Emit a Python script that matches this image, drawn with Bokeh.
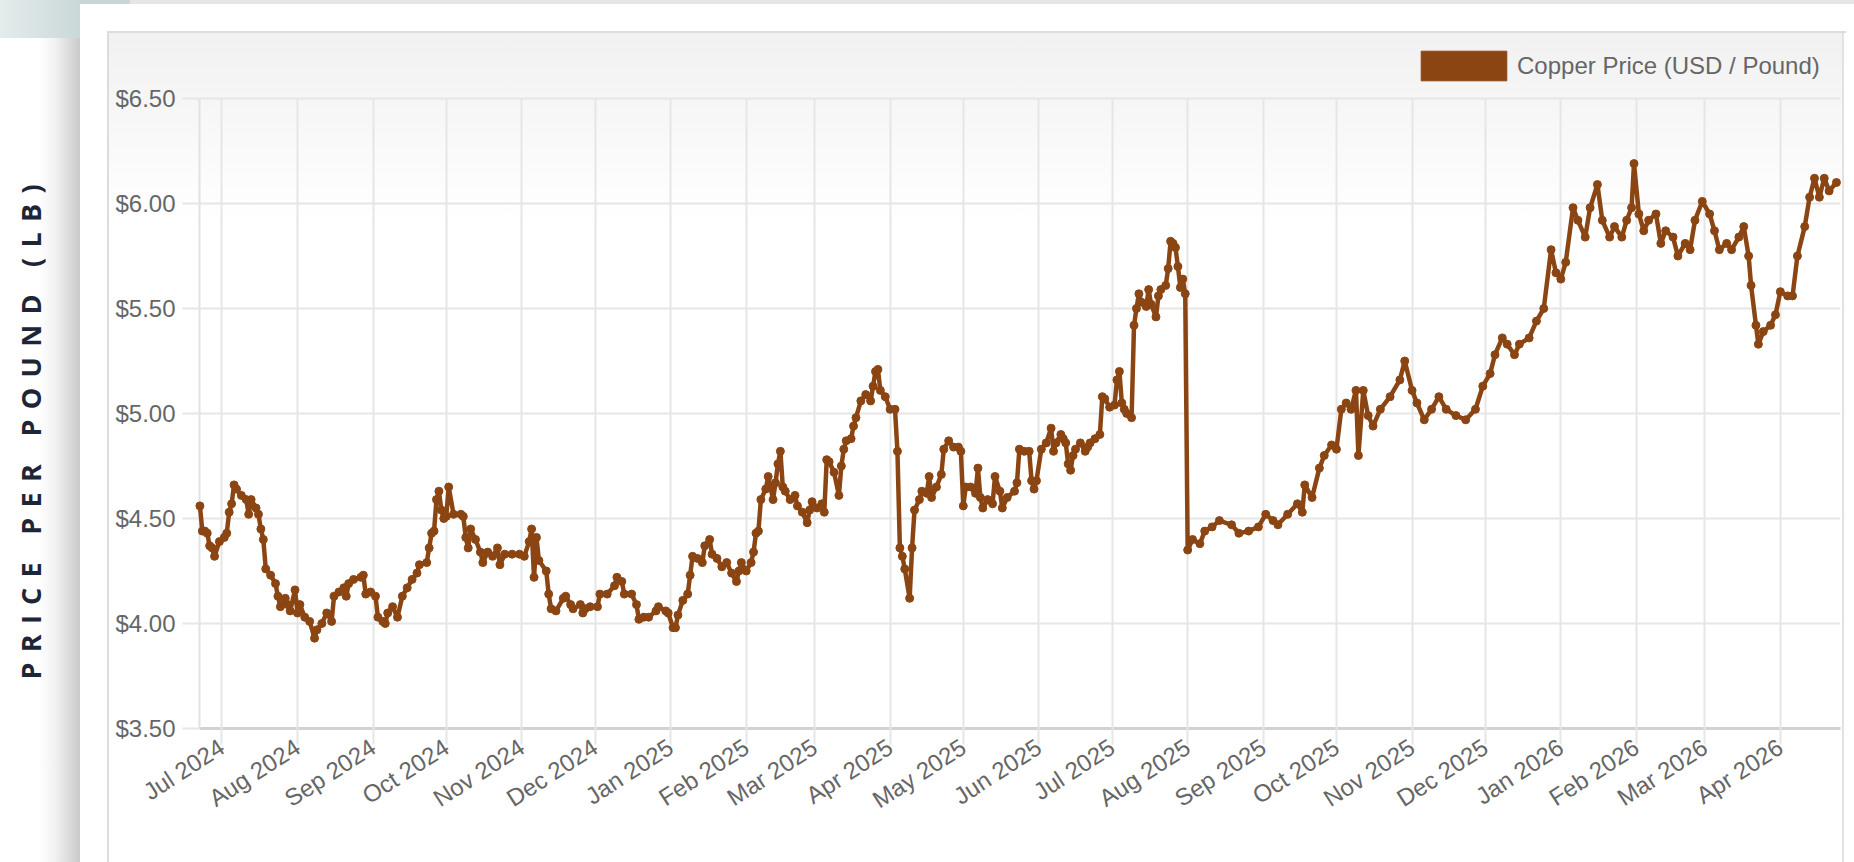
import math
import pandas as pd
from bokeh.plotting import figure
from bokeh.layouts import row
from bokeh.models import (Range1d, FixedTicker, PrintfTickFormatter, MonthsTicker,
                          DatetimeTickFormatter, Legend, LegendItem, Label,
                          ColumnDataSource)
from bokeh.embed import file_html
from bokeh.resources import INLINE

# ---------------- data ----------------
dates_2024 = [
    "2024-06-22", "2024-06-23", "2024-06-24", "2024-06-25", "2024-06-26", "2024-06-27", "2024-06-28",
    "2024-06-30", "2024-07-02", "2024-07-03", "2024-07-04", "2024-07-05", "2024-07-06", "2024-07-07",
    "2024-07-09", "2024-07-11", "2024-07-12", "2024-07-13", "2024-07-15", "2024-07-16", "2024-07-17",
    "2024-07-18", "2024-07-19", "2024-07-21", "2024-07-23", "2024-07-24", "2024-07-25", "2024-07-27",
    "2024-07-28", "2024-07-29", "2024-07-31", "2024-08-01", "2024-08-02", "2024-08-04", "2024-08-06",
    "2024-08-08", "2024-08-09", "2024-08-11", "2024-08-13", "2024-08-15", "2024-08-16", "2024-08-18",
    "2024-08-20", "2024-08-21", "2024-08-22", "2024-08-24", "2024-08-27", "2024-08-28", "2024-08-29",
    "2024-08-31", "2024-09-02", "2024-09-03", "2024-09-05", "2024-09-06", "2024-09-07", "2024-09-09",
    "2024-09-11", "2024-09-13", "2024-09-15", "2024-09-17", "2024-09-19", "2024-09-20", "2024-09-23",
    "2024-09-24", "2024-09-25", "2024-09-26", "2024-09-27", "2024-09-28", "2024-09-29", "2024-09-30",
    "2024-10-01", "2024-10-02", "2024-10-04", "2024-10-07", "2024-10-08", "2024-10-09", "2024-10-10",
    "2024-10-11", "2024-10-13", "2024-10-15", "2024-10-16", "2024-10-18", "2024-10-20", "2024-10-22",
    "2024-10-23", "2024-10-25", "2024-10-28", "2024-10-31", "2024-11-02", "2024-11-04", "2024-11-05",
    "2024-11-06", "2024-11-07", "2024-11-08", "2024-11-11", "2024-11-12", "2024-11-13", "2024-11-15",
    "2024-11-18", "2024-11-19", "2024-11-21", "2024-11-22", "2024-11-25", "2024-11-26", "2024-11-27",
    "2024-11-29", "2024-12-02", "2024-12-03", "2024-12-06", "2024-12-09", "2024-12-10", "2024-12-12",
    "2024-12-13", "2024-12-16", "2024-12-18", "2024-12-19", "2024-12-21", "2024-12-23", "2024-12-26",
    "2024-12-27", "2024-12-30", "2024-12-31",
]
prices_2024 = [
    4.56, 4.44, 4.44, 4.43, 4.37, 4.36, 4.32,
    4.39, 4.41, 4.43, 4.53, 4.57, 4.66, 4.64,
    4.61, 4.59, 4.52, 4.59, 4.55, 4.52, 4.45,
    4.40, 4.26, 4.23, 4.19, 4.13, 4.08, 4.12,
    4.09, 4.06, 4.16, 4.05, 4.09, 4.03, 4.01,
    3.93, 3.97, 4.00, 4.05, 4.01, 4.13, 4.15,
    4.17, 4.13, 4.19, 4.21, 4.22, 4.23, 4.14,
    4.15, 4.13, 4.03, 4.01, 4.00, 4.05, 4.08,
    4.03, 4.13, 4.17, 4.21, 4.24, 4.28, 4.29,
    4.36, 4.43, 4.44, 4.59, 4.63, 4.54, 4.50,
    4.51, 4.65, 4.52, 4.52, 4.51, 4.41, 4.36,
    4.45, 4.40, 4.34, 4.29, 4.34, 4.32, 4.36,
    4.28, 4.33, 4.33, 4.33, 4.32, 4.39, 4.45,
    4.22, 4.41, 4.30, 4.25, 4.14, 4.07, 4.06,
    4.12, 4.13, 4.09, 4.07, 4.09, 4.05, 4.07,
    4.08, 4.08, 4.14, 4.14, 4.18, 4.22, 4.20,
    4.14, 4.14, 4.09, 4.02, 4.03, 4.03, 4.06,
    4.08, 4.06, 4.05,
]

dates_2025 = [
    "2025-01-02", "2025-01-03", "2025-01-04", "2025-01-06", "2025-01-08", "2025-01-09", "2025-01-10",
    "2025-01-12", "2025-01-14", "2025-01-15", "2025-01-17", "2025-01-18", "2025-01-20", "2025-01-22",
    "2025-01-24", "2025-01-26", "2025-01-28", "2025-01-29", "2025-01-30", "2025-02-01", "2025-02-03",
    "2025-02-04", "2025-02-05", "2025-02-06", "2025-02-07", "2025-02-09", "2025-02-10", "2025-02-12",
    "2025-02-13", "2025-02-14", "2025-02-15", "2025-02-16", "2025-02-17", "2025-02-19", "2025-02-21",
    "2025-02-22", "2025-02-24", "2025-02-26", "2025-02-27", "2025-02-28", "2025-03-02", "2025-03-04",
    "2025-03-05", "2025-03-06", "2025-03-07", "2025-03-09", "2025-03-11", "2025-03-12", "2025-03-13",
    "2025-03-14", "2025-03-16", "2025-03-17", "2025-03-18", "2025-03-20", "2025-03-22", "2025-03-24",
    "2025-03-25", "2025-03-26", "2025-03-27", "2025-03-28", "2025-03-30", "2025-04-01", "2025-04-03",
    "2025-04-04", "2025-04-05", "2025-04-06", "2025-04-07", "2025-04-09", "2025-04-10", "2025-04-11",
    "2025-04-13", "2025-04-14", "2025-04-16", "2025-04-17", "2025-04-18", "2025-04-20", "2025-04-22",
    "2025-04-23", "2025-04-25", "2025-04-27", "2025-04-29", "2025-04-30", "2025-05-01", "2025-05-02",
    "2025-05-04", "2025-05-06", "2025-05-07", "2025-05-08", "2025-05-09", "2025-05-11", "2025-05-13",
    "2025-05-14", "2025-05-16", "2025-05-17", "2025-05-19", "2025-05-22", "2025-05-23", "2025-05-24",
    "2025-05-26", "2025-05-28", "2025-05-29", "2025-05-30", "2025-05-31", "2025-06-02", "2025-06-04",
    "2025-06-06", "2025-06-07", "2025-06-08", "2025-06-10", "2025-06-11", "2025-06-12", "2025-06-13",
    "2025-06-14", "2025-06-15", "2025-06-16", "2025-06-18", "2025-06-20", "2025-06-21", "2025-06-22",
    "2025-06-24", "2025-06-26", "2025-06-27", "2025-06-28", "2025-06-30", "2025-07-02", "2025-07-03",
    "2025-07-04", "2025-07-05", "2025-07-06", "2025-07-07", "2025-07-09", "2025-07-10", "2025-07-11",
    "2025-07-12", "2025-07-13", "2025-07-15", "2025-07-16", "2025-07-17", "2025-07-19", "2025-07-20",
    "2025-07-21", "2025-07-23", "2025-07-24", "2025-07-25", "2025-07-26", "2025-07-27", "2025-07-28",
    "2025-07-29", "2025-07-30", "2025-07-31", "2025-08-01", "2025-08-03", "2025-08-06", "2025-08-08",
    "2025-08-11", "2025-08-14", "2025-08-19", "2025-08-22", "2025-08-26", "2025-08-30", "2025-09-02",
    "2025-09-05", "2025-09-07", "2025-09-11", "2025-09-15", "2025-09-17", "2025-09-18", "2025-09-21",
    "2025-09-24", "2025-09-26", "2025-09-29", "2025-10-01", "2025-10-03", "2025-10-05", "2025-10-07",
    "2025-10-09", "2025-10-10", "2025-10-12", "2025-10-14", "2025-10-16", "2025-10-19", "2025-10-23",
    "2025-10-27", "2025-10-29", "2025-11-01", "2025-11-03", "2025-11-06", "2025-11-09", "2025-11-12",
    "2025-11-15", "2025-11-19", "2025-11-23", "2025-11-27", "2025-11-30", "2025-12-03", "2025-12-05",
    "2025-12-08", "2025-12-10", "2025-12-13", "2025-12-15", "2025-12-19", "2025-12-22", "2025-12-25",
    "2025-12-28", "2025-12-30",
]
prices_2025 = [
    3.98, 3.98, 4.04, 4.11, 4.14, 4.23, 4.32,
    4.31, 4.29, 4.37, 4.40, 4.33, 4.31, 4.27,
    4.29, 4.24, 4.20, 4.25, 4.29, 4.25, 4.29,
    4.34, 4.43, 4.44, 4.59, 4.64, 4.70, 4.59,
    4.67, 4.76, 4.82, 4.65, 4.63, 4.59, 4.61,
    4.56, 4.53, 4.48, 4.54, 4.58, 4.55, 4.57,
    4.53, 4.78, 4.77, 4.72, 4.61, 4.75, 4.83,
    4.87, 4.88, 4.94, 4.98, 5.06, 5.09, 5.06,
    5.13, 5.20, 5.21, 5.11, 5.08, 5.02, 5.02,
    4.82, 4.36, 4.32, 4.26, 4.12, 4.36, 4.54,
    4.59, 4.63, 4.62, 4.70, 4.60, 4.65, 4.71,
    4.83, 4.87, 4.84, 4.84, 4.82, 4.56, 4.65,
    4.65, 4.62, 4.74, 4.60, 4.55, 4.59, 4.57,
    4.70, 4.63, 4.55, 4.60, 4.63, 4.67, 4.83,
    4.82, 4.82, 4.68, 4.64, 4.68, 4.83, 4.86,
    4.93, 4.82, 4.86, 4.90, 4.88, 4.86, 4.76,
    4.73, 4.80, 4.83, 4.86, 4.82, 4.84, 4.86,
    4.88, 4.90, 5.08, 5.07, 5.03, 5.04, 5.16,
    5.20, 5.05, 5.02, 5.00, 4.98, 5.42, 5.50,
    5.57, 5.53, 5.51, 5.59, 5.52, 5.46, 5.56,
    5.59, 5.61, 5.69, 5.82, 5.81, 5.79, 5.70,
    5.60, 5.64, 5.57, 4.35, 4.40, 4.38, 4.44,
    4.46, 4.49, 4.47, 4.43, 4.44, 4.46, 4.52,
    4.49, 4.47, 4.52, 4.57, 4.53, 4.66, 4.60,
    4.74, 4.80, 4.85, 4.83, 5.02, 5.05, 5.02,
    5.11, 4.80, 5.11, 4.99, 4.94, 5.02, 5.08,
    5.16, 5.25, 5.11, 5.05, 4.97, 5.02, 5.08,
    5.02, 4.99, 4.97, 5.02, 5.13, 5.19, 5.28,
    5.36, 5.33, 5.28, 5.33, 5.36, 5.44, 5.50,
    5.78, 5.67,
]

dates_2026 = [
    "2026-01-01", "2026-01-03", "2026-01-06", "2026-01-08", "2026-01-11", "2026-01-13", "2026-01-16",
    "2026-01-18", "2026-01-21", "2026-01-23", "2026-01-26", "2026-01-28", "2026-01-30", "2026-01-31",
    "2026-02-02", "2026-02-04", "2026-02-06", "2026-02-09", "2026-02-11", "2026-02-13", "2026-02-16",
    "2026-02-18", "2026-02-21", "2026-02-23", "2026-02-25", "2026-02-28", "2026-03-03", "2026-03-05",
    "2026-03-07", "2026-03-10", "2026-03-12", "2026-03-15", "2026-03-17", "2026-03-19", "2026-03-20",
    "2026-03-22", "2026-03-23", "2026-03-25", "2026-03-28", "2026-03-30", "2026-04-01", "2026-04-04",
    "2026-04-06", "2026-04-08", "2026-04-11", "2026-04-13", "2026-04-15", "2026-04-17", "2026-04-19",
    "2026-04-21", "2026-04-24",
]
prices_2026 = [
    5.64, 5.72, 5.98, 5.92, 5.84, 5.98, 6.09,
    5.92, 5.84, 5.89, 5.84, 5.92, 5.98, 6.19,
    5.95, 5.87, 5.92, 5.95, 5.81, 5.87, 5.84,
    5.75, 5.81, 5.78, 5.92, 6.01, 5.95, 5.87,
    5.78, 5.81, 5.78, 5.84, 5.89, 5.75, 5.61,
    5.42, 5.33, 5.39, 5.42, 5.47, 5.58, 5.56,
    5.56, 5.75, 5.89, 6.03, 6.12, 6.03, 6.12,
    6.06, 6.10,
]

y_ticks = [3.5, 4.0, 4.5, 5.0, 5.5, 6.0, 6.5]
series_name = "Copper Price (USD / Pound)"
axis_title = "PRICE PER POUND (LB)"

COPPER = "#8b4513"
GRID = "#e6e6e6"
TICK_TXT = "#666666"
H = 862

dates = pd.to_datetime(dates_2024 + dates_2025 + dates_2026)
prices = prices_2024 + prices_2025 + prices_2026
src = ColumnDataSource(dict(date=dates, price=prices))

# ---------------- narrow strip holding the spaced vertical axis title ----------------
t = figure(width=80, height=H, output_backend="svg", toolbar_location=None,
           x_axis_location=None, y_axis_location=None,
           x_range=Range1d(0, 1), y_range=Range1d(0, 1),
           min_border=0, min_border_left=0, min_border_right=0,
           min_border_top=0, min_border_bottom=0)
t.grid.visible = False
t.outline_line_color = None
t.background_fill_alpha = 0
t.border_fill_alpha = 0
t.styles = {
    "letter-spacing": "10.3px",
    "background": ("linear-gradient(to right, #e4ecec, #cad8d8) 0px 0px / 80px 38px no-repeat, "
                   "linear-gradient(to right, #ffffff 0%, #f2f2f2 40%, #c9c9c9 100%) 38px 38px / 42px 824px no-repeat, "
                   "#ffffff"),
}
t.add_layout(Label(x=30, y=49, x_units="screen", y_units="screen",
                   text=axis_title, angle=math.pi / 2, text_align="left",
                   text_baseline="middle", text_font="Open Sans",
                   text_font_style="bold", text_font_size="27px",
                   text_color="#1d2636"))

# ---------------- main chart ----------------
# frame spans from the legend header (top) to $3.50; $6.50 sits 60px below the frame top
p = figure(width=1774, height=H, x_axis_type="datetime",
           output_backend="svg", toolbar_location=None,
           x_range=Range1d(pd.Timestamp("2024-06-21 20:00"), pd.Timestamp("2026-04-25 16:00")),
           y_range=Range1d(3.5, 6.7857),
           min_border_left=119, min_border_right=14, min_border_top=38, min_border_bottom=134)
p.outline_line_color = None
p.background_fill_alpha = 0
p.border_fill_alpha = 0
p.styles = {
    "background": ("linear-gradient(#c8d6d6, #c8d6d6) 0px 0px / 50px 4px no-repeat, "
                   "linear-gradient(#e6e6e6, #e6e6e6) 50px 0px / 1724px 4px no-repeat, "
                   "linear-gradient(#dcdcdc, #dcdcdc) 27px 31px / 1739px 2px no-repeat, "
                   "linear-gradient(#dcdcdc, #dcdcdc) 27px 31px / 2px 831px no-repeat, "
                   "linear-gradient(#e2e2e2, #e2e2e2) 1762px 31px / 2px 831px no-repeat, "
                   "linear-gradient(to bottom, #f1f1f1, rgba(255,255,255,0)) 29px 33px / 1733px 190px no-repeat, "
                   "#ffffff"),
}

month_ticker = MonthsTicker(months=list(range(12)))
p.xaxis.ticker = month_ticker
p.xgrid.visible = False
p.yaxis.ticker = FixedTicker(ticks=y_ticks)
p.yaxis.formatter = PrintfTickFormatter(format="$%.2f")
p.yaxis.bounds = (3.5, 6.5)
fmt = "%b %Y"
p.xaxis.formatter = DatetimeTickFormatter(days=fmt, months=fmt, years=fmt, hours=fmt,
                                          minutes=fmt, seconds=fmt, milliseconds=fmt,
                                          microseconds=fmt, minsec=fmt, hourmin=fmt)
p.ygrid.grid_line_color = GRID
p.ygrid.grid_line_width = 2

p.axis.major_label_text_font = "Liberation Sans"
p.axis.major_label_text_font_size = "24px"
p.axis.major_label_text_color = TICK_TXT
p.axis.minor_tick_line_color = None
p.axis.major_tick_line_color = GRID
p.axis.major_tick_line_width = 2

# month lines: x-axis ticks reaching up to the $6.50 line (grid lines of the reference)
p.xaxis.axis_line_color = "#d2d2d2"
p.xaxis.axis_line_width = 3
p.xaxis.major_tick_in = 630
p.xaxis.major_tick_out = 16
p.xaxis.major_label_standoff = 0
p.xaxis.major_label_orientation = math.radians(33)

p.yaxis.axis_line_color = "#e2e2e2"
p.yaxis.axis_line_width = 2
p.yaxis.major_tick_in = 0
p.yaxis.major_tick_out = 17
p.yaxis.major_label_standoff = 7

# series (drawn above the month lines)
p.line("date", "price", source=src, line_color=COPPER, line_width=4.5, level="overlay")
p.scatter("date", "price", source=src, marker="circle", size=8,
          fill_color=COPPER, line_color=COPPER, level="overlay")

# legend with a filled swatch (proxy renderer carries no visible data)
nan = float("nan")
proxy = p.quad(left=[nan], right=[nan], top=[nan], bottom=[nan],
               fill_color=COPPER, line_color=COPPER)
legend = Legend(items=[LegendItem(label=series_name, renderers=[proxy], index=0)],
                location=(1211, 644), orientation="horizontal",
                glyph_width=107, glyph_height=37, label_standoff=0,
                label_text_font="Liberation Sans", label_text_font_size="24px",
                label_text_color=TICK_TXT, padding=0, margin=0, spacing=0,
                border_line_color=None, background_fill_alpha=0)
p.add_layout(legend)

layout = row(t, p, spacing=0)
open("out.html", "w").write(file_html(layout, INLINE))
